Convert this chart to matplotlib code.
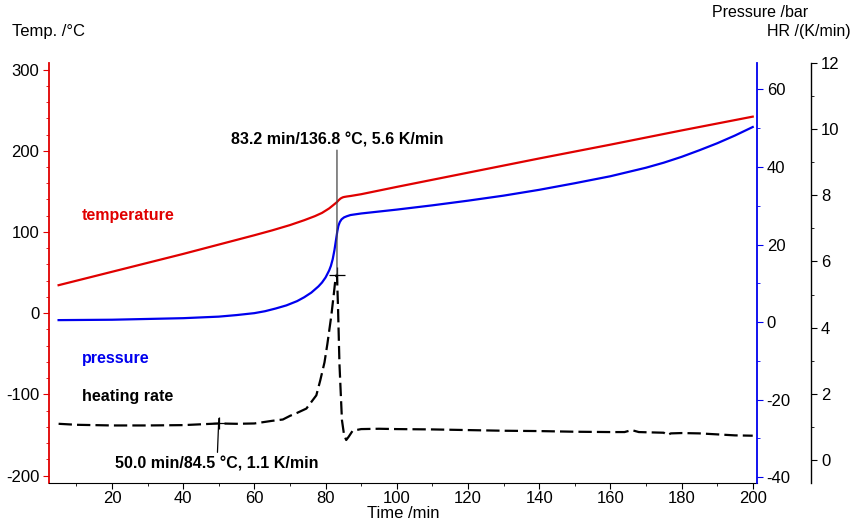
import matplotlib.pyplot as plt
import numpy as np
from matplotlib.ticker import MultipleLocator

plt.rcParams['font.family'] = ['Liberation Sans', 'DejaVu Sans']
plt.rcParams['font.size'] = 12
plt.rcParams['axes.unicode_minus'] = False

# temperature /°C
t_temp = [5, 20, 40, 50, 60, 65, 70, 74, 77, 79, 81, 82, 83.2, 83.6, 84.2, 84.8, 85.2, 86,
          87, 90, 100, 120, 140, 160, 180, 200]
temp = [34.5, 51, 73, 84.5, 96, 102, 108.5, 114.5, 119.5, 123.5, 129, 132.5, 136.8, 138.8,
        141.2, 142.6, 143.1, 143.7, 144.3, 146.5, 155.5, 173, 190.5, 207.5, 225, 242]

# pressure /bar
t_pres = [5, 20, 30, 40, 45, 50, 55, 60, 63, 66, 69, 72, 74, 76, 78, 79, 80, 81, 81.5, 82,
          82.5, 83, 83.3, 83.6, 84, 84.5, 85.2, 86, 87, 90, 95, 100, 110, 120, 130, 140,
          150, 160, 170, 175, 180, 185, 190, 195, 200]
pres = [0.5, 0.6, 0.8, 1.0, 1.2, 1.4, 1.8, 2.3, 2.8, 3.5, 4.3, 5.4, 6.4, 7.6, 9.2, 10.2,
        11.5, 13.3, 14.5, 16.2, 18.6, 21.6, 23.4, 24.8, 25.8, 26.5, 27.0, 27.3, 27.6, 28.0,
        28.5, 29.0, 30.1, 31.3, 32.6, 34.1, 35.8, 37.6, 39.8, 41.1, 42.6, 44.3, 46.1, 48.1,
        50.3]

# heating rate /(K/min)
t_hr = [5, 10, 20, 30, 40, 50, 55, 60, 65, 68, 70, 72, 74.6, 76, 77.4, 78.5, 79.7, 80.5,
        81.6, 82.3, 82.8, 83.2, 83.5, 83.9, 84.6, 85.2, 85.8, 86.5, 87.6, 90, 95, 100, 110,
        120, 130, 140, 150, 160, 164, 166, 168, 175, 176, 177, 180, 185, 190, 195, 200]
hr = [1.09, 1.06, 1.04, 1.04, 1.05, 1.1, 1.09, 1.1, 1.18, 1.22, 1.33, 1.42, 1.55, 1.75, 1.95,
      2.4, 2.95, 3.5, 4.35, 5.0, 5.5, 5.6, 4.6, 2.9, 1.2, 0.75, 0.6, 0.7, 0.88, 0.93, 0.94,
      0.93, 0.92, 0.9, 0.88, 0.87, 0.85, 0.84, 0.84, 0.9, 0.84, 0.82, 0.75, 0.8, 0.81, 0.8,
      0.77, 0.74, 0.73]

# marked points: (time, temperature, heating rate)
mark_peak = (83.2, 136.8, 5.6)
mark_base = (50.0, 84.5, 1.1)

fig = plt.figure(figsize=(8.52, 5.23), dpi=100)
ax = fig.add_axes([0.0575, 0.0765, 0.831, 0.803])
ax_p = ax.twinx()
ax_hr = ax.twinx()

ax.plot(t_temp, temp, color='#e00000', lw=1.6)
ax_p.plot(t_pres, pres, color='#0000ee', lw=1.6)
ax_hr.plot(t_hr, hr, color='black', lw=1.6, linestyle=(0, (6, 2.3)))

ax.set_xlim(2.3, 201.2)
ax.set_ylim(-209, 308)
ax_p.set_ylim(-41.5, 66.8)
ax_hr.set_ylim(-0.7, 12.0)

# spines
ax.spines['top'].set_visible(False)
ax.spines['right'].set_visible(False)
ax.spines['left'].set_color('#e00000')
ax.spines['left'].set_linewidth(1.3)
for s in ['top', 'left', 'bottom']:
    ax_p.spines[s].set_visible(False)
    ax_hr.spines[s].set_visible(False)
ax_p.spines['right'].set_color('#0000ee')
ax_p.spines['right'].set_linewidth(1.3)
ax_hr.spines['right'].set_position(('outward', 39))
ax_hr.spines['right'].set_linewidth(1.0)

# ticks
ax.xaxis.set_major_locator(MultipleLocator(20))
ax.xaxis.set_minor_locator(MultipleLocator(10))
ax.yaxis.set_major_locator(MultipleLocator(100))
ax.yaxis.set_minor_locator(MultipleLocator(20))
ax_p.yaxis.set_major_locator(MultipleLocator(20))
ax_p.yaxis.set_minor_locator(MultipleLocator(10))
ax_hr.yaxis.set_major_locator(MultipleLocator(2))
ax_hr.yaxis.set_minor_locator(MultipleLocator(1))

ax.tick_params(axis='x', which='major', length=4, pad=2)
ax.tick_params(axis='x', which='minor', length=2.5)
ax.tick_params(axis='y', which='both', colors='#e00000', labelcolor='black')
ax.tick_params(axis='y', which='major', length=4, pad=3)
ax.tick_params(axis='y', which='minor', length=2.5)
ax_p.tick_params(axis='y', which='both', colors='#0000ee', labelcolor='black')
ax_p.tick_params(axis='y', which='major', length=4, pad=3)
ax_p.tick_params(axis='y', which='minor', length=2.5)
ax_hr.tick_params(axis='y', which='major', length=4, pad=3)
ax_hr.tick_params(axis='y', which='minor', length=2.5)

ax.set_xlabel('Time /min', labelpad=0)
fig.text(0.014, 0.925, 'Temp. /°C', ha='left', va='bottom')
fig.text(0.948, 0.962, 'Pressure /bar', ha='right', va='bottom', fontsize=11.5)
fig.text(0.998, 0.925, 'HR /(K/min)', ha='right', va='bottom', fontsize=11.5)

bold = dict(fontweight='bold', fontsize=11.5)
ax.text(11.6, 120, 'temperature', color='#e00000', va='center', **bold)
ax.text(11.6, -56, 'pressure', color='#0000ee', va='center', **bold)
ax.text(11.6, -102, 'heating rate', color='black', va='center', **bold)

# marked points on the heating rate curve
t0, T0, h0 = mark_peak
ax_hr.plot([t0], [h0], marker='+', color='black', ms=11, mew=0.9)
ax_hr.annotate(f'{t0:.1f} min/{T0:.1f} °C, {h0:.1f} K/min', xy=(t0, h0),
               xytext=(t0, 9.45), ha='center', va='bottom',
               arrowprops=dict(arrowstyle='-', color='#444444', lw=0.9,
                               shrinkA=0, shrinkB=0), **bold)
t1, T1, h1 = mark_base
ax_hr.plot([t1], [h1], marker='+', color='black', ms=9, mew=0.9)
ax_hr.annotate(f'{t1:.1f} min/{T1:.1f} °C, {h1:.1f} K/min', xy=(t1, h1 + 0.15),
               xytext=(t1 - 0.5, 0.1), ha='center', va='top',
               arrowprops=dict(arrowstyle='-', color='black', lw=0.9,
                               shrinkA=1, shrinkB=0), **bold)

fig.savefig('out.png', dpi=100)
